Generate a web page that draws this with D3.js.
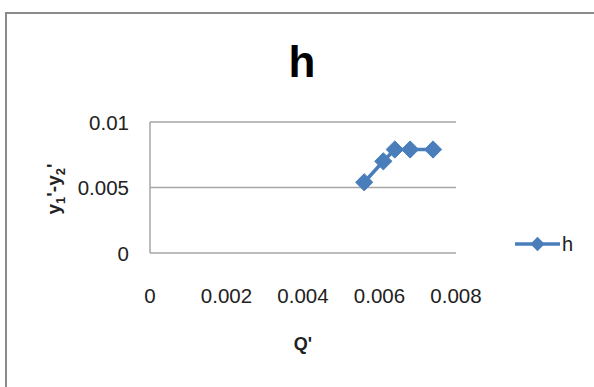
<!DOCTYPE html>
<html lang="en">
<head>
<meta charset="UTF-8">
<title>h</title>
<script src="https://d3js.org/d3.v7.min.js"></script>
<style>
  body { margin: 0; background: #fff; }
  text { font-family: "Liberation Sans", Arial, sans-serif; fill: #222; }
</style>
</head>
<body>
<div id="chart"></div>
<script>
  // data
  const qValues = [0.0056, 0.0061, 0.0064, 0.0068, 0.0074];
  const hValues = [0.0054, 0.0070, 0.0079, 0.0079, 0.0079];
  const xTicks = [0, 0.002, 0.004, 0.006, 0.008];
  const yTicks = [0, 0.005, 0.01];
  const seriesName = "h";

  const W = 594, H = 387;
  const plot = {left: 150, right: 456, top: 122, bottom: 253};
  const blue = "#4a7ebb";

  const svg = d3.select("#chart").append("svg")
    .attr("width", W).attr("height", H);

  // outer frame
  svg.append("rect")
    .attr("x", 6).attr("y", 13)
    .attr("width", W + 10).attr("height", H + 10)
    .attr("fill", "#fff")
    .attr("stroke", "#8a8a8a")
    .attr("stroke-width", 2);

  const x = d3.scaleLinear().domain([0, 0.008]).range([plot.left, plot.right]);
  const y = d3.scaleLinear().domain([0, 0.01]).range([plot.bottom, plot.top]);

  // gridlines
  svg.append("g")
    .selectAll("line")
    .data(yTicks)
    .join("line")
      .attr("x1", plot.left).attr("x2", plot.right)
      .attr("y1", d => y(d)).attr("y2", d => y(d))
      .attr("stroke", "#a6a6a6").attr("stroke-width", 1.5);

  // left axis line
  svg.append("line")
    .attr("x1", plot.left).attr("x2", plot.left)
    .attr("y1", plot.top).attr("y2", plot.bottom)
    .attr("stroke", "#a6a6a6").attr("stroke-width", 1.5);

  // y tick labels
  svg.append("g")
    .selectAll("text")
    .data(yTicks)
    .join("text")
      .attr("x", 129)
      .attr("y", d => y(d))
      .attr("text-anchor", "end")
      .attr("dominant-baseline", "central")
      .style("font-size", "20.5px")
      .text(d => d);

  // x tick labels
  svg.append("g")
    .selectAll("text")
    .data(xTicks)
    .join("text")
      .attr("x", d => x(d))
      .attr("y", 295)
      .attr("text-anchor", "middle")
      .attr("dominant-baseline", "central")
      .style("font-size", "20.5px")
      .text(d => d);

  // title
  svg.append("text")
    .attr("x", 302).attr("y", 77)
    .attr("text-anchor", "middle")
    .style("font-size", "44px")
    .style("font-weight", "bold")
    .style("fill", "#000")
    .text(seriesName);

  // axis titles
  svg.append("text")
    .attr("x", 303).attr("y", 350)
    .attr("text-anchor", "middle")
    .style("font-size", "18px")
    .style("font-weight", "bold")
    .text("Q'");

  const yTitle = svg.append("text")
    .attr("transform", "translate(60,189) rotate(-90)")
    .attr("text-anchor", "middle")
    .style("font-size", "19px")
    .style("font-weight", "bold");
  yTitle.append("tspan").text("y");
  yTitle.append("tspan").attr("dy", 5).style("font-size", "13px").text("1");
  yTitle.append("tspan").attr("dy", -5).text("'-y");
  yTitle.append("tspan").attr("dy", 5).style("font-size", "13px").text("2");
  yTitle.append("tspan").attr("dy", -5).text("'");

  // series line and markers
  const pts = qValues.map((q, i) => [q, hValues[i]]);
  const line = d3.line().x(d => x(d[0])).y(d => y(d[1]));
  svg.append("path")
    .datum(pts)
    .attr("d", line)
    .attr("fill", "none")
    .attr("stroke", blue)
    .attr("stroke-width", 3.5);

  const diamond = d3.symbol().type(d3.symbolDiamond2).size(190);
  svg.append("g")
    .selectAll("path")
    .data(pts)
    .join("path")
      .attr("transform", d => `translate(${x(d[0])},${y(d[1])})`)
      .attr("d", diamond)
      .attr("fill", blue)
      .attr("stroke", blue)
      .attr("stroke-width", 1)
      .attr("stroke-linejoin", "round");

  // legend
  const lg = svg.append("g").attr("transform", "translate(515,244)");
  lg.append("line")
    .attr("x1", 0).attr("x2", 45)
    .attr("stroke", blue).attr("stroke-width", 3.5);
  lg.append("path")
    .attr("transform", "translate(22.5,0)")
    .attr("d", d3.symbol().type(d3.symbolDiamond2).size(130))
    .attr("fill", blue);
  lg.append("text")
    .attr("x", 47).attr("y", 0)
    .attr("dominant-baseline", "central")
    .style("font-size", "20px")
    .text(seriesName);
</script>
</body>
</html>
